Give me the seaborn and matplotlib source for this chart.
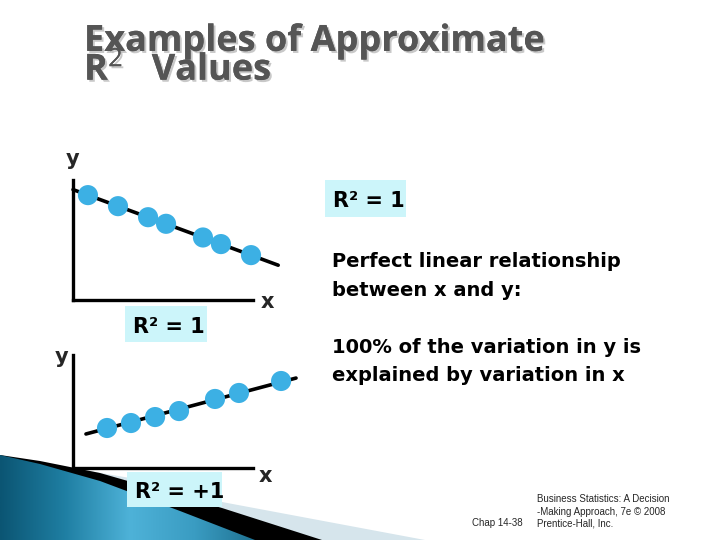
import numpy as np
import pandas as pd
import matplotlib
matplotlib.use("Agg")
import matplotlib.pyplot as plt
import matplotlib.patheffects as pe
from matplotlib.patches import Polygon, Rectangle
from matplotlib.colors import LinearSegmentedColormap
import seaborn as sns

sns.set_theme(style="white")
plt.rcParams['font.family'] = ['DejaVu Sans']
plt.rcParams['mathtext.fontset'] = 'custom'
plt.rcParams['mathtext.rm'] = 'Open Sans'
plt.rcParams['mathtext.it'] = 'Open Sans'
plt.rcParams['mathtext.bf'] = 'Open Sans:bold'

# ---- data ----
top_x = [0.83, 2.5, 4.17, 5.17, 7.22, 8.22, 9.89]
top_y = [8.74, 7.82, 6.9, 6.35, 5.21, 4.66, 3.74]
top_line_x = [0.0, 11.4]
top_line_y = [9.2, 2.9]

bot_x = [1.89, 3.22, 4.56, 5.89, 7.89, 9.22, 11.56]
bot_y = [3.54, 3.98, 4.51, 5.04, 6.11, 6.64, 7.7]
bot_line_x = [0.72, 12.39]
bot_line_y = [3.01, 7.96]

title_text = "Examples of Approximate\nR$^{2}$   Values"
label_top = "R\u00b2 = 1"
label_bot = "R\u00b2 = +1"
desc_lines = ["Perfect linear relationship", "between x and y:",
              "100% of the variation in y is", "explained by variation in x"]
footer_lines = ["Business Statistics: A Decision", "-Making Approach, 7e \u00a9 2008",
                "Prentice-Hall, Inc."]

W, H = 720, 540
fig = plt.figure(figsize=(7.2, 5.4), dpi=100)
fig.patch.set_facecolor("white")

bg = fig.add_axes([0, 0, 1, 1], zorder=0)
bg.set_xlim(0, W)
bg.set_ylim(H, 0)
bg.axis("off")

# decorative swoosh bottom-left
gray = Polygon([(60, 466), (130, 478), (222, 502), (425, 540), (0, 540)], closed=True,
               facecolor="#d6e5ec", edgecolor="none", zorder=1)
bg.add_patch(gray)
black = Polygon([(0, 455), (40, 461), (100, 473), (222, 508), (322, 540), (0, 540)], closed=True,
                facecolor="black", edgecolor="none", zorder=2)
bg.add_patch(black)
teal = Polygon([(0, 455), (40, 464), (100, 481), (180, 511), (255, 540), (0, 540)], closed=True,
               facecolor="none", edgecolor="none", zorder=3)
bg.add_patch(teal)
cmap = LinearSegmentedColormap.from_list("t", ["#0b5573", "#1f7fa3", "#4eb2d8", "#3a9cc2", "#1d6f8e"])
grad = np.linspace(0, 1, 256).reshape(1, -1)
im = bg.imshow(grad, cmap=cmap, extent=(0, 260, 540, 455), aspect="auto", zorder=3)
im.set_clip_path(teal)
bg.set_xlim(0, W)
bg.set_ylim(H, 0)

# title (single text, two lines; baseline refers to last line)
tcol = "#555555"
tfam = ["Open Sans", "DejaVu Sans"]
shadow = [pe.withSimplePatchShadow(offset=(1.5, -1.5), shadow_rgbFace="#bbbbbb", alpha=0.8), pe.Normal()]
bg.text(84, 80, title_text, fontsize=26, fontweight="bold", family=tfam, linespacing=0.74,
        color=tcol, va="baseline", ha="left", multialignment="left",
        path_effects=shadow, zorder=5)

# label boxes
boxc = "#ccf5fa"
for (x0, y0, w, h) in [(325, 180, 81, 37), (125, 306, 82, 36), (127, 472, 95, 35)]:
    bg.add_patch(Rectangle((x0, y0), w, h, facecolor=boxc, edgecolor="none", zorder=6))
lab_kw = dict(fontsize=15, fontweight="bold", color="black", va="baseline", zorder=7)
bg.text(333, 207, label_top, **lab_kw)
bg.text(133, 333, label_top, **lab_kw)
bg.text(135, 498, label_bot, **lab_kw)

# description text
for txt, yb in zip(desc_lines, [267, 296, 353, 381]):
    bg.text(332, yb, txt, fontsize=14, fontweight="bold", color="black", va="baseline", zorder=7)

# axis letters
ax_kw = dict(fontsize=15, fontweight="bold", ha="center", va="baseline", zorder=7)
bg.text(73, 165, "y", **ax_kw)
bg.text(267, 308, "x", **ax_kw)
bg.text(62, 363, "y", **ax_kw)
bg.text(265, 482, "x", **ax_kw)

# footer
ffam = ["Liberation Sans", "DejaVu Sans"]
bg.text(472, 526, "Chap 14-38", fontsize=7, family=ffam, va="baseline", zorder=7)
for txt, yb in zip(footer_lines, [502, 515, 526]):
    bg.text(537, yb, txt, fontsize=7, family=ffam, va="baseline", zorder=7)

pt_color = "#3cb0e4"

def make_panel(rect, xs, ys, lx, ly):
    ax = fig.add_axes(rect, zorder=4)
    ax.patch.set_alpha(0)
    df_pts = pd.DataFrame({"x": xs, "y": ys})
    df_line = pd.DataFrame({"x": lx, "y": ly})
    sns.lineplot(data=df_line, x="x", y="y", ax=ax, color="black", linewidth=2.6,
                 estimator=None, sort=False, zorder=2)
    sns.scatterplot(data=df_pts, x="x", y="y", ax=ax, color=pt_color, s=210,
                    edgecolor="none", linewidth=0, zorder=3)
    ax.set_xlim(0, 10)
    ax.set_ylim(0, 10)
    for art in list(ax.lines) + list(ax.collections):
        art.set_clip_on(False)
    ax.set_xticks([])
    ax.set_yticks([])
    ax.set_xlabel("")
    ax.set_ylabel("")
    for s in ["top", "right"]:
        ax.spines[s].set_visible(False)
    for s in ["left", "bottom"]:
        ax.spines[s].set_visible(True)
        ax.spines[s].set_color("black")
        ax.spines[s].set_linewidth(2.4)
    return ax

make_panel([73 / W, (H - 300) / H, 180 / W, 120 / H], top_x, top_y, top_line_x, top_line_y)
make_panel([73 / W, (H - 468) / H, 180 / W, 113 / H], bot_x, bot_y, bot_line_x, bot_line_y)

fig.savefig("out.png", dpi=100)
